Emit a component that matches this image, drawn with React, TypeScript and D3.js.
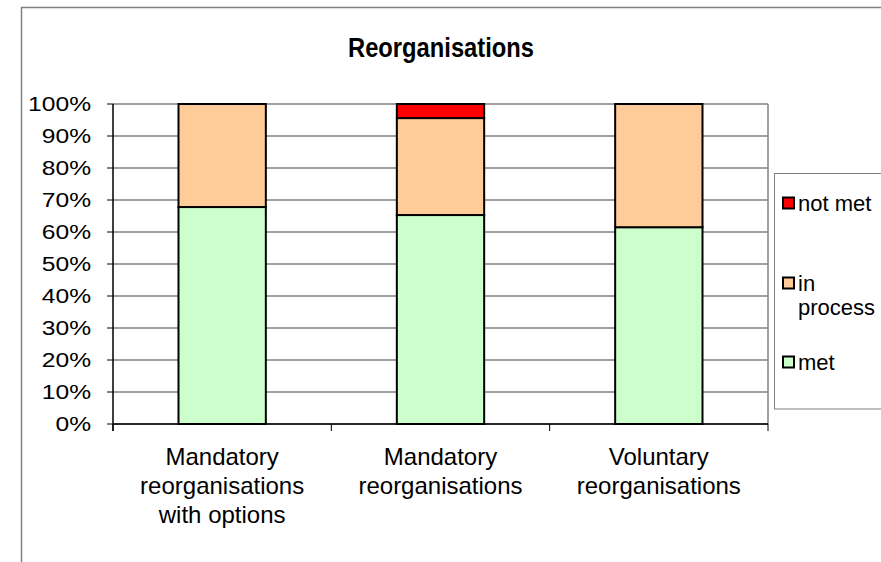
import React from 'react';
import * as d3 from 'd3';

// chart values
const categories = ['Mandatory reorganisations with options', 'Mandatory reorganisations', 'Voluntary reorganisations'];
const categoryLines = [['Mandatory', 'reorganisations', 'with options'], ['Mandatory', 'reorganisations'], ['Voluntary', 'reorganisations']];
const met = [67.8, 65.3, 61.5];
const inProcess = [32.2, 30.3, 38.5];
const notMet = [0, 4.4, 0];
const seriesNames = ['met', 'in process', 'not met'];
const seriesColors = ['#CCFFCC', '#FFCC99', '#FF0000'];
const yTicks = [0, 10, 20, 30, 40, 50, 60, 70, 80, 90, 100];

const W = 881;
const H = 562;
const font = '"Liberation Sans", Arial, sans-serif';

export default function App() {
  const left = 113, right = 768, top = 104, bottom = 424;

  const x = d3.scaleBand().domain(categories).range([left, right]).paddingInner(0.6).paddingOuter(0.3);
  const xOuter = d3.scaleBand().domain(categories).range([left, right]);
  const y = d3.scaleLinear().domain([0, 100]).range([bottom, top]);

  const rows = categories.map((c, i) => ({ cat: c, met: met[i], 'in process': inProcess[i], 'not met': notMet[i] }));
  const stack = d3.stack<any>().keys(seriesNames);
  const layers = stack(rows);

  const boundaries = categories.map(c => xOuter(c)!).concat([right]);

  return (
    <svg width={W} height={H} style={{ position: 'absolute', left: 0, top: 0, background: '#fff' }} fontFamily={font}>
      <rect x={0} y={0} width={W} height={H} fill="#fff" />
      {/* outer chart frame */}
      <rect x={21.5} y={7.5} width={W + 10} height={H + 10} fill="none" stroke="#808080" strokeWidth={1.5} />

      <text transform="translate(441,57) scale(0.95,1.08)" textAnchor="middle" fontSize={25} fontWeight="bold" fill="#000">Reorganisations</text>

      {/* gridlines */}
      {yTicks.map(t => (
        <line key={t} x1={left} x2={right} y1={y(t)} y2={y(t)} stroke="#808080" strokeWidth={1.5} />
      ))}
      <line x1={right} x2={right} y1={top} y2={bottom} stroke="#808080" strokeWidth={1.5} />

      {/* bars */}
      {layers.map((layer, li) =>
        layer.map((d, i) => {
          const h = y(d[0]) - y(d[1]);
          if (h <= 0) return null;
          return (
            <rect key={li + '-' + i} x={x(categories[i])} y={y(d[1])} width={x.bandwidth()} height={h}
              fill={seriesColors[li]} stroke="#000" strokeWidth={2} />
          );
        })
      )}

      {/* axes */}
      <line x1={left} x2={left} y1={top} y2={bottom + 7} stroke="#000" strokeWidth={1.5} />
      <line x1={left} x2={right} y1={bottom} y2={bottom} stroke="#000" strokeWidth={1.5} />
      {yTicks.map(t => (
        <line key={'yt' + t} x1={left - 6} x2={left} y1={y(t)} y2={y(t)} stroke="#000" strokeWidth={1} />
      ))}
      {boundaries.map((b, i) => (
        <line key={'xt' + i} x1={b} x2={b} y1={bottom} y2={bottom + 7} stroke="#000" strokeWidth={1} />
      ))}
      {yTicks.map(t => (
        <text key={'yl' + t} transform={`translate(91,${y(t)}) scale(1.2,1)`} dy="0.36em" textAnchor="end" fontSize={20.5} fill="#000">{t}%</text>
      ))}

      {/* category labels */}
      {categories.map((c, i) => (
        <text key={c} x={xOuter(c)! + xOuter.bandwidth() / 2} textAnchor="middle" fontSize={24} fill="#000">
          {categoryLines[i].map((ln, k) => (
            <tspan key={k} x={xOuter(c)! + xOuter.bandwidth() / 2} y={465 + k * 29}>{ln}</tspan>
          ))}
        </text>
      ))}

      {/* legend */}
      <rect x={774.5} y={173.5} width={120} height={235.5} fill="#fff" stroke="#808080" strokeWidth={1} />
      {[
        { idx: 2, cy: 203, lines: ['not met'] },
        { idx: 1, cy: 283, lines: ['in', 'process'] },
        { idx: 0, cy: 362, lines: ['met'] },
      ].map(item => (
        <g key={item.idx}>
          <rect x={783} y={item.cy - 5.5} width={11} height={11} fill={seriesColors[item.idx]} stroke="#000" strokeWidth={2} />
          <text fontSize={22} fill="#000">
            {item.lines.map((ln, k) => (
              <tspan key={k} x={798} y={item.cy + 8 + k * 24}>{ln}</tspan>
            ))}
          </text>
        </g>
      ))}
    </svg>
  );
}
